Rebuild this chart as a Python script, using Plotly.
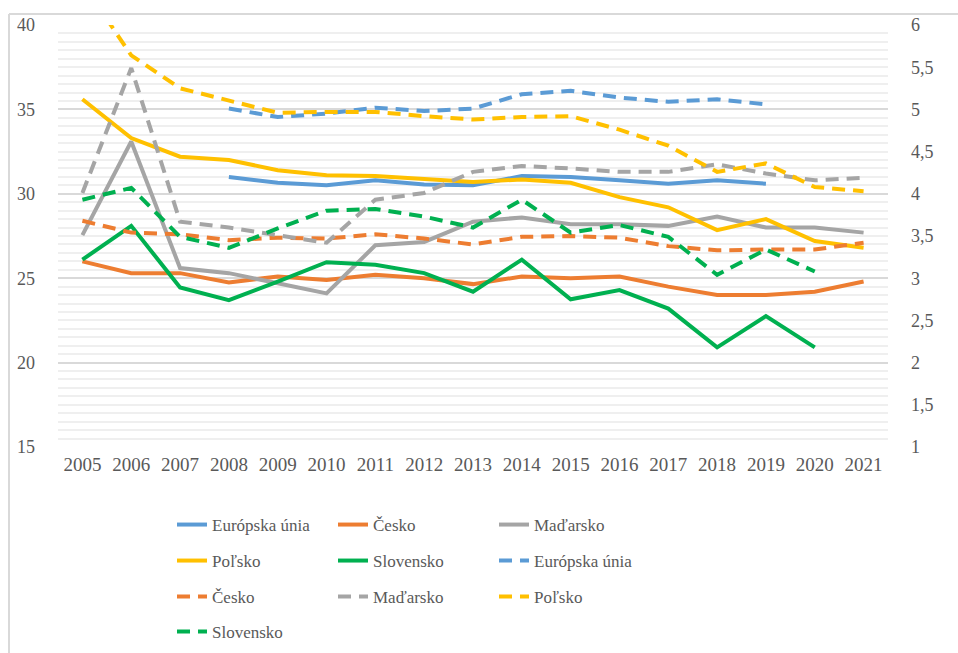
import plotly.graph_objects as go

years = [str(y) for y in range(2005, 2022)]

# Solid series (left axis)
eu_solid = [None, None, None, 31.0, 30.65, 30.5, 30.8, 30.55, 30.5, 31.05, 31.0, 30.8, 30.6, 30.8, 30.6, None, None]
cz_solid = [26.0, 25.3, 25.3, 24.75, 25.1, 24.9, 25.2, 25.0, 24.65, 25.1, 25.0, 25.1, 24.5, 24.0, 24.0, 24.2, 24.8]
hu_solid = [27.55, 33.1, 25.6, 25.3, 24.7, 24.1, 26.95, 27.15, 28.35, 28.6, 28.2, 28.2, 28.1, 28.65, 28.0, 28.0, 27.7]
pl_solid = [35.6, 33.3, 32.2, 32.0, 31.4, 31.1, 31.05, 30.9, 30.7, 30.85, 30.65, 29.8, 29.2, 27.85, 28.5, 27.2, 26.8]
sk_solid = [26.1, 28.1, 24.45, 23.7, 24.8, 25.95, 25.8, 25.3, 24.2, 26.1, 23.75, 24.3, 23.2, 20.9, 22.75, 20.9, None]

# Dashed series (right axis)
eu_dash = [None, None, None, 5.01, 4.91, 4.95, 5.02, 4.98, 5.01, 5.18, 5.22, 5.14, 5.09, 5.12, 5.06, None, None]
cz_dash = [3.68, 3.54, 3.52, 3.45, 3.48, 3.47, 3.52, 3.47, 3.40, 3.49, 3.50, 3.48, 3.38, 3.33, 3.34, 3.34, 3.42]
hu_dash = [4.01, 5.49, 3.67, 3.60, 3.51, 3.42, 3.93, 4.01, 4.26, 4.33, 4.30, 4.26, 4.26, 4.35, 4.24, 4.16, 4.19]
pl_dash = [6.5, 5.64, 5.25, 5.11, 4.96, 4.97, 4.97, 4.92, 4.88, 4.91, 4.92, 4.76, 4.57, 4.26, 4.36, 4.08, 4.03]
sk_dash = [3.93, 4.07, 3.49, 3.36, 3.59, 3.80, 3.82, 3.73, 3.60, 3.93, 3.54, 3.63, 3.49, 3.04, 3.34, 3.08, None]

names = ["Európska únia", "Česko", "Maďarsko", "Poľsko", "Slovensko"]
colors = ["#5B9BD5", "#ED7D31", "#A5A5A5", "#FFC000", "#00B050"]

solid = [eu_solid, cz_solid, hu_solid, pl_solid, sk_solid]
dashed = [eu_dash, cz_dash, hu_dash, pl_dash, sk_dash]

# legend row assignment (Excel order, 3 per row)
legend_ids = ["legend", "legend2", "legend3", "legend4"]

fig = go.Figure()
k = 0
for vals, nm, col in zip(solid, names, colors):
    fig.add_trace(go.Scatter(x=years, y=vals, name=nm, mode="lines",
                             line=dict(color=col, width=4),
                             legend=legend_ids[k // 3], yaxis="y"))
    k += 1
for vals, nm, col in zip(dashed, names, colors):
    fig.add_trace(go.Scatter(x=years, y=vals, name=nm, mode="lines",
                             line=dict(color=col, width=4, dash="13px,8px"),
                             legend=legend_ids[k // 3], yaxis="y2"))
    k += 1

W, H = 958, 653
L, R, T, B = 58, 70, 25, 206
txt = "#595959"
font_family = "Liberation Serif, Times New Roman, DejaVu Serif, serif"

def px2paper_x(px):
    return (px - L) / (W - L - R)

def px2paper_y(py):
    return 1 - (py - T) / (H - T - B)

legend_common = dict(orientation="h", xref="container", yref="container",
                     xanchor="left", yanchor="middle", x=172 / W,
                     entrywidth=116, entrywidthmode="pixels",
                     font=dict(family=font_family, size=17, color=txt),
                     bgcolor="rgba(0,0,0,0)", traceorder="normal")
row_y = [525, 561, 597, 632]

layout_legends = {}
for lid, ry in zip(legend_ids, row_y):
    layout_legends[lid] = dict(legend_common, y=1 - ry / H)

fig.update_layout(
    width=W, height=H,
    margin=dict(l=L, r=R, t=T, b=B, pad=0),
    paper_bgcolor="white", plot_bgcolor="white",
    separators=", ",
    showlegend=True,
    font=dict(family=font_family, color=txt),
    xaxis=dict(type="category", showgrid=False, zeroline=False, showline=False,
               ticks="", tickfont=dict(family=font_family, size=19, color=txt),
               range=[-0.5, 16.5], ticklabelstandoff=4),
    yaxis=dict(range=[15, 40], dtick=5, tick0=15, showgrid=True, gridcolor="#D9D9D9",
               gridwidth=1.5, zeroline=False, showline=False, ticks="",
               tickfont=dict(family=font_family, size=18, color=txt), ticklabelstandoff=22,
               minor=dict(dtick=0.5, tick0=15, showgrid=True, gridcolor="#EFEFEF", gridwidth=1.5)),
    yaxis2=dict(range=[1, 6], dtick=0.5, tick0=1, overlaying="y", side="right",
                showgrid=False, zeroline=False, showline=False, ticks="",
                tickfont=dict(family=font_family, size=18, color=txt), ticklabelstandoff=22),
    **layout_legends,
)

# outer chart-area frame (as in the original Excel chart)
fig.add_shape(type="line", xref="paper", yref="paper",
              x0=px2paper_x(9), x1=px2paper_x(960), y0=px2paper_y(14), y1=px2paper_y(14),
              line=dict(color="#D9D9D9", width=2))
fig.add_shape(type="line", xref="paper", yref="paper",
              x0=px2paper_x(9), x1=px2paper_x(9), y0=px2paper_y(14), y1=px2paper_y(660),
              line=dict(color="#D9D9D9", width=2))

fig.write_html("out.html", config={"displayModeBar": False},
               post_script="document.body.style.margin='0';")
